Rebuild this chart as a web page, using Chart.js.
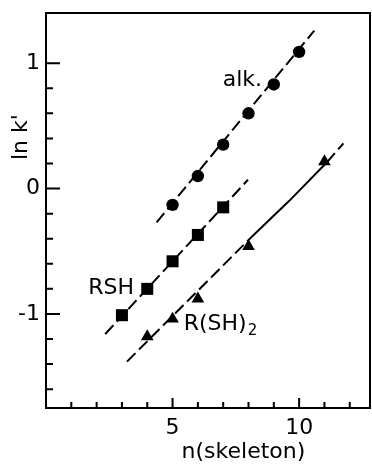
<!DOCTYPE html>
<html lang="en">
<head>
<meta charset="UTF-8">
<title>ln k' vs n(skeleton)</title>
<script src="https://cdn.jsdelivr.net/npm/chart.js"></script>
<style>
  html, body { margin: 0; padding: 0; background: #fff; }
  canvas { display: block; }
</style>
</head>
<body>
<canvas id="chart" width="372" height="465"></canvas>
<script>
const alkN = [5, 6, 7, 8, 9, 10];
const alkLnK = [-0.13, 0.10, 0.35, 0.60, 0.83, 1.09];
const rshN = [3, 4, 5, 6, 7];
const rshLnK = [-1.01, -0.80, -0.58, -0.37, -0.15];
const dithiolN = [4, 5, 6, 8, 11];
const dithiolLnK = [-1.18, -1.04, -0.88, -0.46, 0.215];

// the drawn fit lines, end points (and bends) as seen in the figure
const alkFitN = [4.37, 10.6];
const alkFitLnK = [-0.27, 1.26];
const rshFitN = [2.34, 7.98];
const rshFitLnK = [-1.16, 0.07];
const dithiolFitN = [3.2, 8.1, 9.6, 11.1, 11.75];
const dithiolFitLnK = [-1.38, -0.39, -0.10, 0.21, 0.36];
const dithiolSolidSegments = [1, 2];

// axis ticks
const xMajorTicks = [5, 10];
const xMinorTicks = [1, 2, 3, 4, 6, 7, 8, 9, 11, 12];
const yMajorTicks = [-1, 0, 1];
const yMinorTicks = [-1.6, -1.4, -1.2, -0.8, -0.6, -0.4, -0.2, 0.2, 0.4, 0.6, 0.8];

const FONT = 'DejaVu Sans';
const DASH = [12, 5];

function pts(xs, ys) {
  return xs.map((x, i) => ({ x: x, y: ys[i] }));
}

// box, inward ticks and the text labels
const figurePlugin = {
  id: 'figure',
  afterDraw(chart) {
    const ctx = chart.ctx;
    const a = chart.chartArea;
    const xs = chart.scales.x;
    const ys = chart.scales.y;
    ctx.save();
    ctx.strokeStyle = '#000';
    ctx.lineWidth = 2;
    ctx.strokeRect(a.left, a.top, a.right - a.left, a.bottom - a.top);

    ctx.beginPath();
    xMajorTicks.forEach(v => {
      const px = xs.getPixelForValue(v);
      ctx.moveTo(px, a.bottom); ctx.lineTo(px, a.bottom - 10);
    });
    xMinorTicks.forEach(v => {
      const px = xs.getPixelForValue(v);
      ctx.moveTo(px, a.bottom); ctx.lineTo(px, a.bottom - 6);
    });
    yMajorTicks.forEach(v => {
      const py = ys.getPixelForValue(v);
      ctx.moveTo(a.left, py); ctx.lineTo(a.left + 14, py);
    });
    yMinorTicks.forEach(v => {
      const py = ys.getPixelForValue(v);
      ctx.moveTo(a.left, py); ctx.lineTo(a.left + 7, py);
    });
    ctx.stroke();

    ctx.fillStyle = '#000';
    ctx.font = '22px "' + FONT + '"';
    ctx.textBaseline = 'alphabetic';
    ctx.textAlign = 'left';
    ctx.fillText('alk.', xs.getPixelForValue(6.98), ys.getPixelForValue(0.815));
    ctx.fillText('RSH', xs.getPixelForValue(1.67), ys.getPixelForValue(-0.842));
    const rx = xs.getPixelForValue(5.44);
    const ry = ys.getPixelForValue(-1.128);
    ctx.fillText('R(SH)', rx, ry);
    const w = ctx.measureText('R(SH)').width;
    ctx.font = '15px "' + FONT + '"';
    ctx.fillText('2', rx + w + 1, ry + 5);

    // x axis title, set to the right of centre as in the figure
    ctx.font = '22px "' + FONT + '"';
    ctx.textAlign = 'center';
    ctx.textBaseline = 'middle';
    ctx.fillText('n(skeleton)', xs.getPixelForValue(7.8), 452);

    ctx.translate(21, ys.getPixelForValue(0.41));
    ctx.rotate(-Math.PI / 2);
    ctx.fillText("ln k'", 0, 0);
    ctx.restore();
  }
};

const lineStyle = {
  showLine: true,
  borderColor: '#000',
  borderWidth: 2,
  borderDash: DASH,
  pointRadius: 0,
  fill: false
};

function noScalePadding(s) {
  s.paddingTop = 0; s.paddingBottom = 0; s.paddingLeft = 0; s.paddingRight = 0;
}

new Chart(document.getElementById('chart'), {
  type: 'scatter',
  data: {
    datasets: [
      Object.assign({ label: 'alk. fit', data: pts(alkFitN, alkFitLnK) }, lineStyle),
      Object.assign({ label: 'RSH fit', data: pts(rshFitN, rshFitLnK) }, lineStyle),
      Object.assign({
        label: 'R(SH)2 fit',
        data: pts(dithiolFitN, dithiolFitLnK),
        segment: {
          borderDash: c => dithiolSolidSegments.includes(c.p0DataIndex) ? [] : DASH
        }
      }, lineStyle),
      {
        label: 'alk.', data: pts(alkN, alkLnK),
        pointStyle: 'circle', pointRadius: 6.2,
        backgroundColor: '#000', borderColor: '#000', borderWidth: 0
      },
      {
        label: 'RSH', data: pts(rshN, rshLnK),
        pointStyle: 'rect', pointRadius: 8.5,
        backgroundColor: '#000', borderColor: '#000', borderWidth: 0
      },
      {
        label: 'R(SH)2', data: pts(dithiolN, dithiolLnK),
        pointStyle: 'triangle', pointRadius: 7.3,
        backgroundColor: '#000', borderColor: '#000', borderWidth: 0
      }
    ]
  },
  options: {
    responsive: false,
    animation: false,
    layout: { autoPadding: false, padding: { top: 13, right: 2, left: 0, bottom: 0 } },
    plugins: {
      legend: { display: false },
      tooltip: { enabled: false }
    },
    scales: {
      x: {
        type: 'linear',
        min: 0,
        max: 12.8,
        grid: { display: false, drawTicks: false },
        border: { display: false },
        afterBuildTicks: s => { s.ticks = xMajorTicks.map(v => ({ value: v })); },
        afterFit: s => { s.height = 57; noScalePadding(s); },
        ticks: {
          color: '#000',
          padding: 7,
          maxRotation: 0,
          font: { family: FONT, size: 22 },
          callback: v => String(v)
        }
      },
      y: {
        type: 'linear',
        min: -1.75,
        max: 1.4,
        grid: { display: false, drawTicks: false },
        border: { display: false },
        afterBuildTicks: s => { s.ticks = yMajorTicks.map(v => ({ value: v })); },
        afterFit: s => { s.width = 46; noScalePadding(s); },
        ticks: {
          color: '#000',
          padding: 6,
          font: { family: FONT, size: 22 },
          callback: v => String(v)
        }
      }
    }
  },
  plugins: [figurePlugin]
});
</script>
</body>
</html>
